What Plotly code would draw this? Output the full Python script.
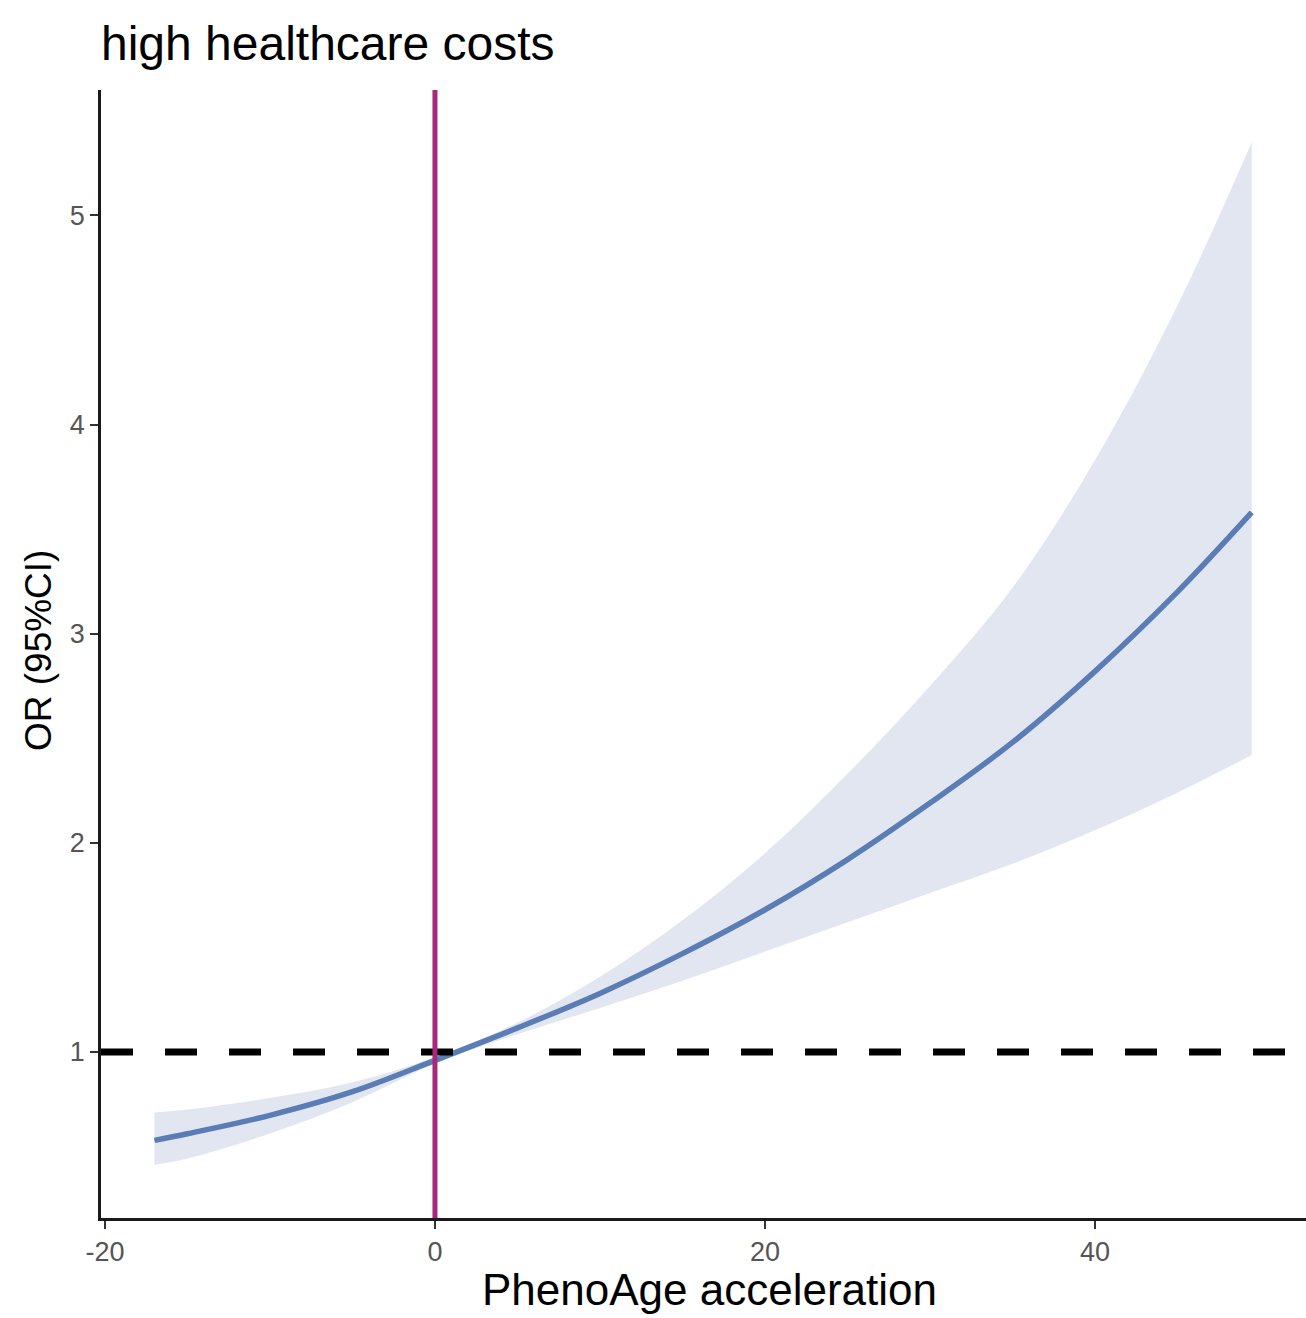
import plotly.graph_objects as go

# ---- data ----
pheno_age_acc = [-17, -15, -10, -5, 0, 5, 10, 15, 20, 25, 30, 35, 40, 45, 49.5]
or_estimate   = [0.577, 0.609, 0.697, 0.81, 0.96, 1.115, 1.28, 1.47, 1.68, 1.92, 2.19, 2.48, 2.82, 3.20, 3.58]
or_upper      = [0.71, 0.725, 0.78, 0.855, 0.975, 1.14, 1.36, 1.63, 1.95, 2.33, 2.75, 3.22, 3.83, 4.57, 5.35]
or_lower      = [0.46, 0.49, 0.61, 0.76, 0.945, 1.085, 1.21, 1.34, 1.48, 1.62, 1.76, 1.90, 2.06, 2.24, 2.42]

x_ticks = [-20, 0, 20, 40]
y_ticks = [1, 2, 3, 4, 5]
ref_or = 1
ref_x = 0

title_text = "high healthcare costs"
x_title = "PhenoAge acceleration"
y_title = "OR (95%CI)"

FONT = "Liberation Sans, Arial, sans-serif"
BAND = "#E2E6F1"
LINE = "#5A7DB6"
VLINE = "#A8287C"

fig = go.Figure()

# confidence band: upper edge, then lower edge filled to it
fig.add_trace(go.Scatter(
    x=pheno_age_acc, y=or_upper, mode="lines",
    line=dict(color=BAND, width=0, shape="spline", smoothing=1),
    hoverinfo="skip", showlegend=False))
fig.add_trace(go.Scatter(
    x=pheno_age_acc, y=or_lower, mode="lines", fill="tonexty", fillcolor=BAND,
    line=dict(color=BAND, width=0, shape="spline", smoothing=1),
    hoverinfo="skip", showlegend=False))

# horizontal reference line (OR = 1)
fig.add_shape(type="line", xref="paper", yref="y", x0=0, x1=1, y0=ref_or, y1=ref_or,
              line=dict(color="black", width=7, dash="32px,32px"), layer="above")

# estimate curve
fig.add_trace(go.Scatter(
    x=pheno_age_acc, y=or_estimate, mode="lines",
    line=dict(color=LINE, width=5.5, shape="spline", smoothing=1),
    showlegend=False))

# vertical reference line
fig.add_shape(type="line", xref="x", yref="paper", x0=ref_x, x1=ref_x, y0=0, y1=1,
              line=dict(color=VLINE, width=5), layer="above")

fig.update_layout(
    width=1306, height=1318,
    margin=dict(l=101, r=0, t=90, b=100),
    paper_bgcolor="white", plot_bgcolor="white",
    font=dict(family=FONT),
    showlegend=False,
    xaxis=dict(range=[-20.24, 52.79], tickvals=x_ticks, ticktext=[str(v) for v in x_ticks],
               showgrid=False, zeroline=False, showline=True, linecolor="#1a1a1a", linewidth=2.5,
               ticks="outside", ticklen=8, tickwidth=2, tickcolor="#333333",
               tickfont=dict(size=27, color="#555555", family=FONT)),
    yaxis=dict(range=[0.206, 5.60], tickvals=y_ticks, ticktext=[str(v) for v in y_ticks],
               showgrid=False, zeroline=False, showline=True, linecolor="#1a1a1a", linewidth=2.5,
               ticks="outside", ticklen=8, tickwidth=2, tickcolor="#333333",
               tickfont=dict(size=27, color="#555555", family=FONT)),
    annotations=[
        dict(text=title_text, xref="paper", yref="paper", x=-0.002, y=1.041,
             xanchor="left", yanchor="middle", showarrow=False,
             font=dict(size=48, color="black", family=FONT)),
        dict(text=x_title, xref="paper", yref="paper", x=0.505, y=-0.0638,
             xanchor="center", yanchor="middle", showarrow=False,
             font=dict(size=44, color="black", family=FONT)),
        dict(text=y_title, xref="paper", yref="paper", x=-0.0523, y=0.5035,
             xanchor="center", yanchor="middle", textangle=-90, showarrow=False,
             font=dict(size=37, color="black", family=FONT)),
    ],
)

fig.write_html("out.html")
